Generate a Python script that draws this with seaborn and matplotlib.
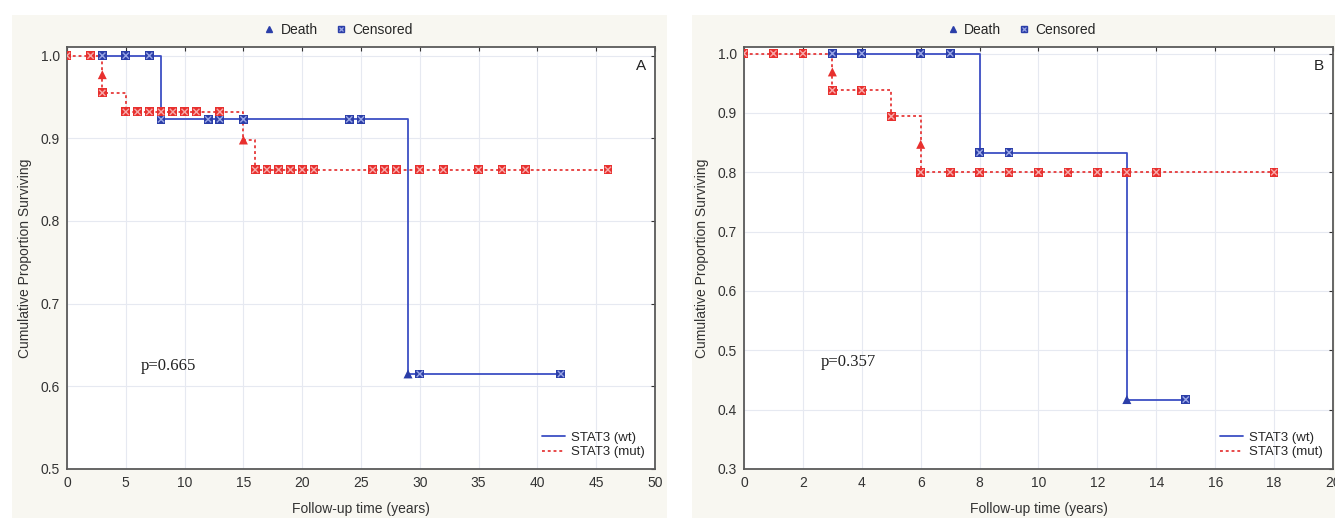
import pandas as pd
import seaborn as sns
import matplotlib.pyplot as plt
from matplotlib.lines import Line2D
from matplotlib.patches import Rectangle
from matplotlib.legend_handler import HandlerTuple

# Panel A: follow-up time (years), cumulative proportion surviving, point kind (c = censored, d = death)
a_wt_time = [3, 5, 7, 8, 12, 13, 15, 24, 25, 29, 30, 42]
a_wt_surv = [1.0, 1.0, 1.0, 0.923, 0.923, 0.923, 0.923, 0.923, 0.923, 0.615, 0.615, 0.615]
a_wt_kind = ['c', 'c', 'c', 'c', 'c', 'c', 'c', 'c', 'c', 'd', 'c', 'c']

a_mut_time = [0, 2, 3, 3, 5, 6, 7, 8, 9, 10, 11, 13, 15, 16, 17, 18, 19, 20, 21,
              26, 27, 28, 30, 32, 35, 37, 39, 46]
a_mut_surv = [1.0, 1.0, 0.977, 0.955, 0.932, 0.932, 0.932, 0.932, 0.932, 0.932, 0.932, 0.932,
              0.898, 0.862, 0.862, 0.862, 0.862, 0.862, 0.862, 0.862, 0.862, 0.862,
              0.862, 0.862, 0.862, 0.862, 0.862, 0.862]
a_mut_kind = ['c', 'c', 'd', 'c', 'c', 'c', 'c', 'c', 'c', 'c', 'c', 'c', 'd', 'c', 'c', 'c',
              'c', 'c', 'c', 'c', 'c', 'c', 'c', 'c', 'c', 'c', 'c', 'c']

# Panel B
b_wt_time = [3, 4, 6, 7, 8, 9, 13, 15]
b_wt_surv = [1.0, 1.0, 1.0, 1.0, 0.833, 0.833, 0.417, 0.417]
b_wt_kind = ['c', 'c', 'c', 'c', 'c', 'c', 'd', 'c']

b_mut_time = [0, 1, 2, 3, 3, 4, 5, 6, 6, 7, 8, 9, 10, 11, 12, 13, 14, 18]
b_mut_surv = [1.0, 1.0, 1.0, 0.969, 0.938, 0.938, 0.894, 0.847, 0.8, 0.8, 0.8, 0.8, 0.8,
              0.8, 0.8, 0.8, 0.8, 0.8]
b_mut_kind = ['c', 'c', 'c', 'd', 'c', 'c', 'c', 'd', 'c', 'c', 'c', 'c', 'c', 'c', 'c', 'c', 'c', 'c']

p_values = ['p=0.665', 'p=0.357']
panel_tags = ['A', 'B']

blue = '#3d4fc4'
red = '#e63a3a'
blue_mk = '#2b3ea8'
red_mk = '#e8302e'


def make_df(wt_t, wt_s, wt_k, mut_t, mut_s, mut_k):
    wt = pd.DataFrame({'time': wt_t, 'surv': wt_s, 'kind': wt_k, 'group': 'wt'})
    mut = pd.DataFrame({'time': mut_t, 'surv': mut_s, 'kind': mut_k, 'group': 'mut'})
    return pd.concat([wt, mut], ignore_index=True)


df_a = make_df(a_wt_time, a_wt_surv, a_wt_kind, a_mut_time, a_mut_surv, a_mut_kind)
df_b = make_df(b_wt_time, b_wt_surv, b_wt_kind, b_mut_time, b_mut_surv, b_mut_kind)

sns.set_style('whitegrid')
plt.rcParams['font.family'] = ['Liberation Sans', 'DejaVu Sans']

fig = plt.figure(figsize=(13.35, 5.18), dpi=100)
fig.patch.set_facecolor('white')
# cream panel backgrounds
fig.add_artist(Rectangle((0.009, 0), 0.4905, 0.971, transform=fig.transFigure,
                         facecolor='#f8f7f1', edgecolor='none', zorder=-5))
fig.add_artist(Rectangle((0.518, 0), 0.482, 0.971, transform=fig.transFigure,
                         facecolor='#f8f7f1', edgecolor='none', zorder=-5))

ax_a = fig.add_axes([0.0502, 0.0946, 0.4404, 0.8147])
ax_b = fig.add_axes([0.5573, 0.0946, 0.4412, 0.8147])

settings = [
    (ax_a, df_a, (0, 50), (0.5, 1.0105), range(0, 55, 5), [0.5, 0.6, 0.7, 0.8, 0.9, 1.0], (6.3, 0.625), 0.46),
    (ax_b, df_b, (0, 20), (0.3, 1.011), range(0, 22, 2), [0.3, 0.4, 0.5, 0.6, 0.7, 0.8, 0.9, 1.0], (2.6, 0.48), 0.47),
]

pal_line = {'wt': blue, 'mut': red}
pal_mk = {'wt': blue_mk, 'mut': red_mk}
pal_x = {'wt': '#9aa6e6', 'mut': '#f7a9a9'}

for i, (ax, df, xl, yl, xt, yt, ptxt, lcx) in enumerate(settings):
    ax.set_facecolor('white')
    sns.lineplot(data=df, x='time', y='surv', hue='group', style='group',
                 palette=pal_line, dashes={'wt': '', 'mut': (1.6, 1.6)},
                 estimator=None, sort=False, drawstyle='steps-post',
                 linewidth=1.3, legend=False, ax=ax)
    cens = df[df['kind'] == 'c']
    dead = df[df['kind'] == 'd']
    sns.scatterplot(data=cens, x='time', y='surv', hue='group', palette=pal_mk,
                    marker='s', s=40, linewidth=0, legend=False, ax=ax, zorder=4)
    sns.scatterplot(data=cens, x='time', y='surv', hue='group', palette=pal_x,
                    marker='x', s=20, linewidth=1.0, legend=False, ax=ax, zorder=5)
    sns.scatterplot(data=dead, x='time', y='surv', hue='group', palette=pal_mk,
                    marker='^', s=42, linewidth=0, legend=False, ax=ax, zorder=4)

    ax.set_xlim(*xl)
    ax.set_ylim(*yl)
    ax.set_xticks(list(xt))
    ax.set_yticks(yt)
    ax.set_yticklabels([f'{v:.1f}' for v in yt])
    ax.grid(True, color='#e6e9f1', linewidth=0.8)
    for sp in ax.spines.values():
        sp.set_color('#5a5a5a')
        sp.set_linewidth(1.3)
    ax.tick_params(axis='both', labelsize=10, colors='#333333', direction='in',
                   length=3, width=0.8, top=True, right=True, pad=5)
    ax.set_xlabel('Follow-up time (years)', fontsize=10, color='#333333', labelpad=9)
    ax.set_ylabel('Cumulative Proportion Surviving', fontsize=10, color='#333333', labelpad=6)

    ax.text(ptxt[0], ptxt[1], p_values[i], family=['Liberation Serif', 'DejaVu Serif'],
            fontsize=12, color='#222222', va='center')
    ax.text(0.985, 0.955, panel_tags[i], transform=ax.transAxes, fontsize=11,
            ha='right', va='center', color='#222222')

    # top legend: Death / Censored
    h_death = Line2D([], [], marker='^', color=blue_mk, ls='', markersize=5)
    h_cens = (Line2D([], [], marker='s', color=blue_mk, ls='', markersize=5),
              Line2D([], [], marker='x', color='#9aa6e6', ls='', markersize=3.5, markeredgewidth=0.9))
    top_leg = ax.legend([h_death, h_cens], ['Death', 'Censored'], loc='center',
                        bbox_to_anchor=(lcx, 1.04), ncol=2, frameon=False, fontsize=10,
                        handletextpad=0.3, columnspacing=1.2, handlelength=1.0,
                        borderpad=0, borderaxespad=0,
                        handler_map={tuple: HandlerTuple(ndivide=1)})
    ax.add_artist(top_leg)

    # lower right legend: groups
    h_wt = Line2D([], [], color=blue, lw=1.3)
    h_mut = Line2D([], [], color=red, lw=1.3, ls=(0, (1.6, 1.6)))
    ax.legend([h_wt, h_mut], ['STAT3 (wt)', 'STAT3 (mut)'], loc='lower right',
              frameon=False, fontsize=9.5, handlelength=1.8, handletextpad=0.4,
              labelspacing=0.2, borderaxespad=0.4)

fig.savefig('out.png', dpi=100)
